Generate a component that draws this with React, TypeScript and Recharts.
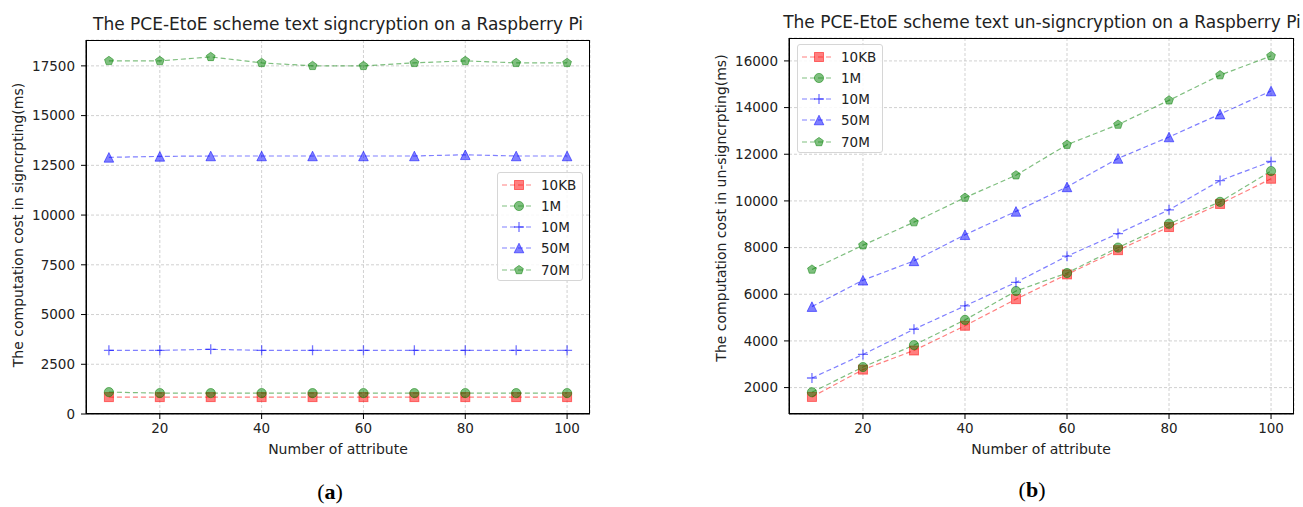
import React from 'react';
import { LineChart, Line, XAxis, YAxis, CartesianGrid } from 'recharts';

// Number of attributes on the x axis
const ATTRIBUTES = [10, 20, 30, 40, 50, 60, 70, 80, 90, 100];
const ATTR_TICKS = [20, 40, 60, 80, 100];

// Series labels (message sizes)
const SERIES_NAMES = ['10KB', '1M', '10M', '50M', '70M'];

// Signcryption cost (ms)
const SIGN_10KB = [850, 850, 850, 850, 850, 850, 850, 850, 850, 850];
const SIGN_1M = [1100, 1050, 1050, 1050, 1050, 1050, 1050, 1050, 1050, 1050];
const SIGN_10M = [3200, 3200, 3250, 3200, 3200, 3200, 3200, 3200, 3200, 3200];
const SIGN_50M = [12900, 12950, 12970, 12970, 12970, 12970, 12970, 13030, 12970, 12970];
const SIGN_70M = [17750, 17750, 17950, 17650, 17500, 17500, 17650, 17750, 17650, 17650];
const SIGN_TICKS = [0, 2500, 5000, 7500, 10000, 12500, 15000, 17500];

// Un-signcryption cost (ms)
const UNSIGN_10KB = [1600, 2770, 3590, 4650, 5790, 6850, 7890, 8880, 9870, 10950];
const UNSIGN_1M = [1800, 2880, 3820, 4900, 6140, 6910, 8000, 9020, 9960, 11280];
const UNSIGN_10M = [2410, 3420, 4500, 5500, 6510, 7630, 8600, 9620, 10870, 11690];
const UNSIGN_50M = [5470, 6600, 7430, 8550, 9550, 10600, 11820, 12740, 13720, 14710];
const UNSIGN_70M = [7060, 8100, 9090, 10140, 11100, 12410, 13270, 14310, 15390, 16210];
const UNSIGN_TICKS = [2000, 4000, 6000, 8000, 10000, 12000, 14000, 16000];

type Shape = 'square' | 'circle' | 'plus' | 'triangle' | 'pentagon';

const SERIES_STYLE: { key: string; color: string; shape: Shape }[] = [
  { key: 's0', color: '255,0,0', shape: 'square' },
  { key: 's1', color: '0,128,0', shape: 'circle' },
  { key: 's2', color: '0,0,255', shape: 'plus' },
  { key: 's3', color: '0,0,255', shape: 'triangle' },
  { key: 's4', color: '0,128,0', shape: 'pentagon' },
];

const FONT = '"DejaVu Sans", sans-serif';
const TEXT = '#222';

function buildRows(series: number[][]) {
  return ATTRIBUTES.map((a, i) => {
    const row: Record<string, number> = { attr: a };
    series.forEach((vals, s) => {
      row[SERIES_STYLE[s].key] = vals[i];
    });
    return row;
  });
}

const SIGN_ROWS = buildRows([SIGN_10KB, SIGN_1M, SIGN_10M, SIGN_50M, SIGN_70M]);
const UNSIGN_ROWS = buildRows([UNSIGN_10KB, UNSIGN_1M, UNSIGN_10M, UNSIGN_50M, UNSIGN_70M]);

function Marker({ shape, color, cx, cy }: { shape: Shape; color: string; cx: number; cy: number }) {
  const fill = `rgba(${color},0.5)`;
  const edge = `rgba(${color},0.5)`;
  if (shape === 'square') {
    return <rect x={cx - 4.5} y={cy - 4.5} width={9} height={9} fill={fill} stroke={edge} strokeWidth={1} />;
  }
  if (shape === 'circle') {
    return <circle cx={cx} cy={cy} r={4.6} fill={fill} stroke={edge} strokeWidth={1} />;
  }
  if (shape === 'plus') {
    return (
      <path
        d={`M${cx - 5},${cy}H${cx + 5}M${cx},${cy - 5}V${cy + 5}`}
        stroke={`rgba(${color},0.55)`}
        strokeWidth={1.3}
        fill="none"
      />
    );
  }
  if (shape === 'triangle') {
    const h = 4.8;
    return (
      <polygon
        points={`${cx},${cy - h} ${cx - h},${cy + h} ${cx + h},${cy + h}`}
        fill={fill}
        stroke={edge}
        strokeWidth={1}
      />
    );
  }
  const r = 4.6;
  const pts = [0, 1, 2, 3, 4]
    .map((k) => {
      const ang = -Math.PI / 2 + (k * 2 * Math.PI) / 5;
      return `${cx + r * Math.cos(ang)},${cy + r * Math.sin(ang)}`;
    })
    .join(' ');
  return <polygon points={pts} fill={fill} stroke={edge} strokeWidth={1} />;
}

const makeDot = (shape: Shape, color: string) => (props: any) => {
  const { cx, cy, index } = props;
  if (cx == null || cy == null) return <g key={`dot-${index}`} />;
  return (
    <g key={`dot-${index}`}>
      <Marker shape={shape} color={color} cx={cx} cy={cy} />
    </g>
  );
};

function LegendBox({ left, top, width }: { left: number; top: number; width: number }) {
  return (
    <div
      style={{
        position: 'absolute',
        left,
        top,
        width,
        height: 109,
        boxSizing: 'border-box',
        border: '1px solid #d6d6d6',
        borderRadius: 3,
        background: 'rgba(255,255,255,0.85)',
      }}
    >
      {SERIES_NAMES.map((name, i) => {
        const st = SERIES_STYLE[i];
        const y = 11.5 + i * 21.3;
        return (
          <div key={name} style={{ position: 'absolute', left: 0, top: y - 10, height: 20, width: '100%' }}>
            <svg width={36} height={20} style={{ position: 'absolute', left: 3, top: 0 }}>
              <line
                x1={1}
                x2={30}
                y1={10}
                y2={10}
                stroke={`rgba(${st.color},0.5)`}
                strokeWidth={1.2}
                strokeDasharray="5 3"
              />
              <Marker shape={st.shape} color={st.color} cx={18} cy={10} />
            </svg>
            <span
              style={{
                position: 'absolute',
                left: 43,
                top: 1,
                fontFamily: FONT,
                fontSize: 13.5,
                color: TEXT,
                lineHeight: '18px',
                whiteSpace: 'nowrap',
              }}
            >
              {name}
            </span>
          </div>
        );
      })}
    </div>
  );
}

interface PanelProps {
  left: number;
  width: number;
  plotLeft: number;
  plotRight: number;
  plotTop: number;
  plotBottom: number;
  rows: Record<string, number>[];
  yDomain: [number, number];
  yTicks: number[];
  tickMargin: number;
}

function Panel(p: PanelProps) {
  return (
    <div style={{ position: 'absolute', left: p.left, top: 0, width: p.width, height: 507 }}>
      <LineChart
        width={p.width}
        height={507}
        data={p.rows}
        margin={{ top: p.plotTop, right: p.width - p.plotRight, left: 0, bottom: 0 }}
      >
        <CartesianGrid stroke="#bdbdbd" strokeWidth={0.7} strokeDasharray="3 2" />
        <XAxis
          dataKey="attr"
          type="number"
          domain={[5.5, 104.5]}
          ticks={ATTR_TICKS}
          height={507 - p.plotBottom}
          tickSize={5}
          tickMargin={4}
          stroke="#000"
          tick={{ fill: TEXT, fontSize: 13.5, fontFamily: FONT }}
          allowDataOverflow
        />
        <YAxis
          type="number"
          domain={p.yDomain}
          ticks={p.yTicks}
          width={p.plotLeft}
          tickSize={5}
          tickMargin={p.tickMargin}
          stroke="#000"
          tick={{ fill: TEXT, fontSize: 13.5, fontFamily: FONT }}
          allowDataOverflow
        />
        {SERIES_STYLE.map((st, i) => (
          <Line
            key={st.key}
            dataKey={st.key}
            name={SERIES_NAMES[i]}
            stroke={`rgba(${st.color},0.5)`}
            strokeWidth={1.2}
            strokeDasharray="5 3"
            dot={makeDot(st.shape, st.color)}
            activeDot={false}
            isAnimationActive={false}
          />
        ))}
      </LineChart>
      <div
        style={{
          position: 'absolute',
          left: p.plotLeft,
          top: p.plotTop,
          width: p.plotRight - p.plotLeft,
          height: p.plotBottom - p.plotTop,
          boxSizing: 'border-box',
          border: '1px solid #000',
          pointerEvents: 'none',
        }}
      />
    </div>
  );
}

const centered = (x: number, y: number, extra: React.CSSProperties = {}): React.CSSProperties => ({
  position: 'absolute',
  left: x,
  top: y,
  transform: 'translate(-50%, -50%)',
  whiteSpace: 'nowrap',
  fontFamily: FONT,
  color: TEXT,
  ...extra,
});

export default function App() {
  return (
    <div style={{ position: 'absolute', left: 0, top: 0, width: 1303, height: 507, background: '#fff', overflow: 'hidden' }}>
      <Panel
        left={0}
        width={650}
        plotLeft={86}
        plotRight={590}
        plotTop={40}
        plotBottom={414}
        rows={SIGN_ROWS}
        yDomain={[0, 18800]}
        yTicks={SIGN_TICKS}
        tickMargin={6}
      />
      <Panel
        left={650}
        width={653}
        plotLeft={139}
        plotRight={644}
        plotTop={38}
        plotBottom={414}
        rows={UNSIGN_ROWS}
        yDomain={[868, 16982]}
        yTicks={UNSIGN_TICKS}
        tickMargin={6}
      />

      <LegendBox left={497} top={172} width={86} />
      <LegendBox left={797} top={44} width={86} />

      <div style={centered(338, 24, { fontSize: 17 })}>The PCE-EtoE scheme text signcryption on a Raspberry Pi</div>
      <div style={centered(1042, 22, { fontSize: 17 })}>The PCE-EtoE scheme text un-signcryption on a Raspberry Pi</div>

      <div style={centered(338, 449, { fontSize: 14 })}>Number of attribute</div>
      <div style={centered(1041, 449, { fontSize: 14 })}>Number of attribute</div>

      <div style={centered(18, 225, { fontSize: 14, transform: 'translate(-50%, -50%) rotate(-90deg)' })}>
        The computation cost in signcrpting(ms)
      </div>
      <div style={centered(721, 208, { fontSize: 14, transform: 'translate(-50%, -50%) rotate(-90deg)' })}>
        The computation cost in un-signcrpting(ms)
      </div>

      <div style={centered(330, 492, { fontSize: 22, fontFamily: '"Liberation Serif", serif', color: '#000' })}>
        (<b>a</b>)
      </div>
      <div style={centered(1032, 490, { fontSize: 22, fontFamily: '"Liberation Serif", serif', color: '#000' })}>
        (<b>b</b>)
      </div>
    </div>
  );
}
